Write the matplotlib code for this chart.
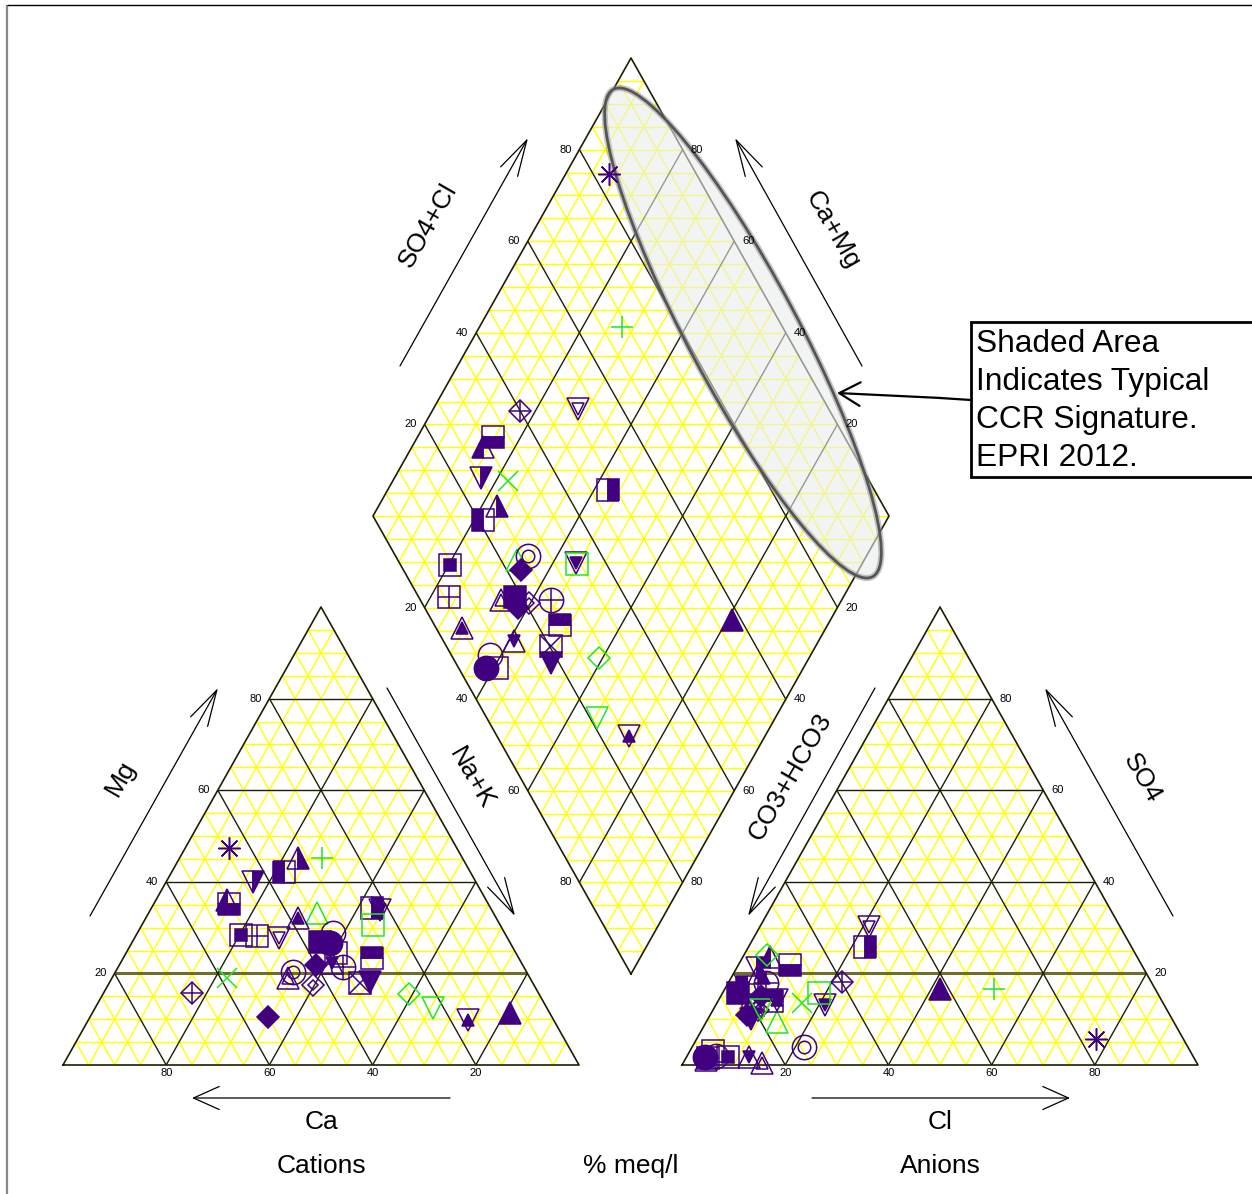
import matplotlib
matplotlib.use('Agg')
import matplotlib.pyplot as plt
from matplotlib.patches import Ellipse, Rectangle

plt.rcParams['font.family'] = ['Liberation Sans', 'DejaVu Sans']

# sample chemistry, % meq/l (Ca = 100 - Mg - Na+K, CO3+HCO3 = 100 - SO4 - Cl)
mg = [47.4, 45.2, 15.7, 27.7, 35.2, 36.0, 40.0, 19.0, 45.2, 42.1, 34.3, 28.4,
      33.2, 10.5, 20.3, 33.8, 30.6, 28.2, 26.9, 21.8, 17.5, 21.4, 23.4, 32.1,
      22.3, 17.9, 18.1, 26.6, 28.8, 24.5, 15.5, 11.4, 12.4, 9.8, 19.0]
nak = [8.5, 27.6, 17.1, 28.0, 14.6, 13.8, 16.8, 22.3, 22.9, 21.8, 42.8, 20.3,
       32.6, 34.5, 34.4, 44.5, 44.8, 23.5, 36.4, 38.1, 39.7, 43.6, 48.2, 29.5,
       41.0, 48.6, 50.4, 38.4, 37.9, 40.7, 59.3, 80.9, 65.5, 73.6, 34.1]
so4 = [5.7, 16.6, 18.1, 30.1, 21.8, 23.6, 21.2, 13.5, 20.0, 17.0, 25.8, 1.7,
       9.4, 15.0, 3.9, 13.1, 15.7, 1.5, 15.7, 11.0, 12.0, 18.0, 14.0, 1.0,
       1.7, 13.0, 10.0, 1.7, 2.0, 3.0, 24.0, 16.6, 12.0, 14.2, 0.5]
cl = [77.4, 52.2, 21.9, 21.2, 10.0, 5.3, 3.9, 16.5, 5.0, 4.0, 22.6, 8.0,
      13.7, 7.8, 21.7, 21.1, 18.7, 4.3, 3.0, 7.1, 8.7, 7.2, 10.4, 4.1,
      12.1, 7.2, 8.4, 3.6, 5.5, 4.5, 4.4, 41.7, 9.3, 11.3, 15.2]
symbols = ['asterisk', 'plus', 'D_plus', 'v_v', 's_bottom', '^_left', 'v_right',
           'x', '^_right', 's_left', 's_right', 's_dot', '^_open', 'D_full',
           'bullseye', 'v_vfill', 's_open', 's_plus', 's_full', 'D_full', 'D_D',
           'o_plus', 's_top', '^_^fill', '^_vfill', 's_x', 'v_full', 'o_full',
           'o_open', 's_open', 'D_open', '^_full', 'v_open', 'v_^fill', '^_^']
groups = ['p', 'g', 'p', 'p', 'p', 'p', 'p', 'g', 'p', 'p', 'p', 'p', 'g', 'p',
          'p', 'p', 'g', 'p', 'p', 'p', 'p', 'p', 'p', 'p', 'p', 'p', 'p', 'p',
          'p', 'p', 'g', 'p', 'g', 'p', 'p']
ticks = [20, 40, 60, 80]

PURPLE = '#400080'
GREEN = '#22e622'
YELLOW = '#ffff00'
DARK = '#1e1e00'

W = 516.0
H = 458.0
CX, AX, BY = 63.0, 682.0, 1065.0
DX, DY = 631.0, 974.0

S, T, O, DM, SM = 16.0, 16.5, 17.5, 11.5, 8.0
STYLES = {
    'asterisk': [((8, 2, 0), 16, 'line')],
    'plus': [('+', 16, 'line')],
    'x': [('x', 15, 'line')],
    'D_plus': [('D', DM, 'open'), ('+', 15, 'line')],
    'D_D': [('D', DM, 'open'), ('D', 5.5, 'open')],
    'D_full': [('D', DM, 'full')],
    'D_open': [('D', DM, 'open')],
    'v_v': [('v', T, 'open'), ('v', SM, 'open')],
    'v_vfill': [('v', T, 'open'), ('v', SM, 'full')],
    'v_^fill': [('v', T, 'open'), ('^', SM, 'full')],
    'v_right': [('v', T, 'right')],
    'v_full': [('v', T, 'full')],
    'v_open': [('v', T, 'open')],
    '^_left': [('^', T, 'left')],
    '^_right': [('^', T, 'right')],
    '^_full': [('^', T, 'full')],
    '^_open': [('^', T, 'open')],
    '^_^fill': [('^', T, 'open'), ('^', SM, 'full')],
    '^_vfill': [('^', T, 'open'), ('v', SM, 'full')],
    '^_^': [('^', T, 'open'), ('^', SM, 'open')],
    's_bottom': [('s', S, 'bottom')],
    's_top': [('s', S, 'top')],
    's_left': [('s', S, 'left')],
    's_right': [('s', S, 'right')],
    's_full': [('s', S, 'full')],
    's_open': [('s', S, 'open')],
    's_dot': [('s', S, 'open'), ('s', SM, 'full')],
    's_plus': [('s', S, 'open'), ('+', S, 'line')],
    's_x': [('s', S, 'open'), ('x', S, 'line')],
    'o_full': [('o', O, 'full')],
    'o_open': [('o', O, 'open')],
    'o_plus': [('o', O, 'open'), ('+', O, 'line')],
    'bullseye': [('o', O, 'open'), ('o', 9, 'open')],
}


def cat_xy(m, n):
    return CX + W * (n + m / 2), BY - H * m


def an_xy(s, c):
    return AX + W * (c + s / 2), BY - H * s


def dia_xy(p, q):
    return DX + W / 2 * (q - p), DY - H * (p + q)


fig = plt.figure(figsize=(12.52, 11.94), dpi=100)
ax = fig.add_axes([0, 0, 1, 1])
ax.set_xlim(0, 1252)
ax.set_ylim(1194, 0)
ax.axis('off')


def line(p0, p1, **kw):
    ax.plot([p0[0], p1[0]], [p0[1], p1[1]], solid_capstyle='butt', **kw)


def tri_grid(xy):
    for i in range(1, 20):
        v = i / 20
        dark = i % 4 == 0
        col = DARK if dark else YELLOW
        z = 2 if dark else 1
        # parallel to base
        if i == 4:
            line(xy(v, 0), xy(v, 1 - v), color='#6e6e28', lw=2.2, zorder=2)
        else:
            line(xy(v, 0), xy(v, 1 - v), color=col, lw=1.0, zorder=z)
        # parallel to left side
        line(xy(0, v), xy(1 - v, v), color=col, lw=1.0, zorder=z)
        # parallel to right side
        line(xy(0, 1 - v), xy(1 - v, 0), color=col, lw=1.0, zorder=z)
    corners = [xy(0, 0), xy(0, 1), xy(1, 0), xy(0, 0)]
    ax.plot([c[0] for c in corners], [c[1] for c in corners], color=DARK, lw=1.2, zorder=3)


tri_grid(cat_xy)
tri_grid(an_xy)

# diamond grid
for k in range(1, 40):
    y = DY - H * k / 20
    hw = W / 2 * (k if k <= 20 else 40 - k) / 20
    line((DX - hw, y), (DX + hw, y), color=YELLOW, lw=1.0, zorder=1)
for i in range(1, 20):
    v = i / 20
    dark = i % 4 == 0
    col = DARK if dark else YELLOW
    z = 2 if dark else 1
    line(dia_xy(v, 0), dia_xy(v, 1), color=col, lw=1.0, zorder=z)
    line(dia_xy(0, v), dia_xy(1, v), color=col, lw=1.0, zorder=z)
dc = [dia_xy(0, 0), dia_xy(1, 0), dia_xy(1, 1), dia_xy(0, 1), dia_xy(0, 0)]
ax.plot([c[0] for c in dc], [c[1] for c in dc], color=DARK, lw=1.2, zorder=3)

# tick labels
tk = dict(fontsize=8, ha='center', va='center', zorder=6)
for t in ticks:
    v = t / 100
    x, y = cat_xy(0, 1 - v)
    ax.text(x, y + 8, str(t), **tk)
    x, y = cat_xy(v, 0)
    ax.text(x - 14, y, str(t), **tk)
    x, y = an_xy(0, v)
    ax.text(x, y + 8, str(t), **tk)
    x, y = an_xy(v, 1 - v)
    ax.text(x + 14, y, str(t), **tk)
    x, y = dia_xy(1, v)
    ax.text(x - 14, y, str(t), **tk)
    x, y = dia_xy(v, 1)
    ax.text(x + 14, y, str(t), **tk)
    x, y = dia_xy(1 - v, 0)
    ax.text(x - 14, y, str(t), **tk)
    x, y = dia_xy(0, 1 - v)
    ax.text(x + 14, y, str(t), **tk)

# shaded CCR area
ell = dict(xy=(743, 333), width=552, height=110, angle=62.0)
ax.add_patch(Ellipse(**ell, facecolor='#eaeded', alpha=0.6, edgecolor='none', zorder=4))
ax.add_patch(Ellipse(**ell, facecolor='none', edgecolor='#909090', lw=4.5, alpha=0.5, zorder=4))
ax.add_patch(Ellipse(**ell, facecolor='none', edgecolor='#555555', lw=2.0, zorder=4))


def draw_marker(x, y, key, c):
    for m, ms, mode in STYLES[key]:
        kw = dict(marker=m, ms=ms, ls='none', mec=c, mew=1.1, zorder=5)
        if mode == 'line':
            kw['color'] = c
        elif mode == 'open':
            kw['mfc'] = 'none'
        elif mode == 'full':
            kw['mfc'] = c
        else:
            kw.update(fillstyle=mode, mfc=c, mfcalt='none')
        ax.plot([x], [y], **kw)


for i in range(len(mg)):
    c = PURPLE if groups[i] == 'p' else GREEN
    m, n, s, k = mg[i] / 100, nak[i] / 100, so4[i] / 100, cl[i] / 100
    for x, y in (cat_xy(m, n), an_xy(s, k), dia_xy(1 - n, s + k)):
        draw_marker(x, y, symbols[i], c)

# axis titles and arrows
big = dict(fontsize=19, ha='center', va='center', zorder=6)
ax.text(428, 225, 'SO4+Cl', rotation=60, **big)
ax.text(832, 230, 'Ca+Mg', rotation=-60, **big)
ax.text(121, 778, 'Mg', rotation=60, **big)
ax.text(472, 778, 'Na+K', rotation=-60, **big)
ax.text(790, 777, 'CO3+HCO3', rotation=60, **big)
ax.text(1142, 778, 'SO4', rotation=-60, **big)
ax.text(321, 1122, 'Ca', **big)
ax.text(940, 1122, 'Cl', **big)
ax.text(321, 1166, 'Cations', **big)
ax.text(631, 1166, '% meq/l', **big)
ax.text(940, 1166, 'Anions', **big)

diag = dict(arrowstyle='->,head_length=2.6,head_width=0.7', lw=0.9, color='black',
            shrinkA=0, shrinkB=0)
flat = dict(arrowstyle='->,head_length=1.85,head_width=0.83', lw=0.9, color='black',
            shrinkA=0, shrinkB=0)
for tail, tip in [((400, 366), (528, 138)), ((862, 366), (735, 138)),
                  ((90, 916), (218, 688)), ((387, 688), (515, 916)),
                  ((875, 688), (748, 916)), ((1173, 916), (1045, 688))]:
    ax.annotate('', xy=tip, xytext=tail, arrowprops=diag, zorder=6)
ax.annotate('', xy=(192, 1098), xytext=(450, 1098), arrowprops=flat, zorder=6)
ax.annotate('', xy=(1070, 1098), xytext=(812, 1098), arrowprops=flat, zorder=6)

# callout
ax.add_patch(Rectangle((971, 322), 295, 155, facecolor='white', edgecolor='black',
                       lw=2.0, zorder=6, clip_on=False))
note = ['Shaded Area', 'Indicates Typical', 'CCR Signature.', 'EPRI 2012.']
for j, s in enumerate(note):
    ax.text(976, 352 + 38 * j, s, fontsize=22.8, ha='left', va='baseline', zorder=7)
line((971, 400), (940, 398), color='black', lw=1.6, zorder=6)
ax.annotate('', xy=(837, 393), xytext=(941, 398),
            arrowprops=dict(arrowstyle='->,head_length=1.5,head_width=0.85', lw=1.6,
                            color='black', shrinkA=0, shrinkB=0), zorder=6)

# frame
line((7, 5), (7, 1194), color='#888888', lw=1.6, zorder=8)
line((7, 4.5), (1252, 4.5), color='black', lw=1.0, zorder=8)

fig.savefig('out.png', dpi=100)
